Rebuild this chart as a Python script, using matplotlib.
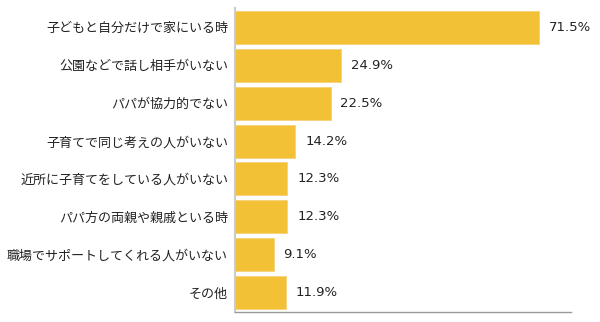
import matplotlib
matplotlib.use("Agg")
import matplotlib.pyplot as plt

# data
labels = [
    "子どもと自分だけで家にいる時",
    "公園などで話し相手がいない",
    "パパが協力的でない",
    "子育てで同じ考えの人がいない",
    "近所に子育てをしている人がいない",
    "パパ方の両親や親戚といる時",
    "職場でサポートしてくれる人がいない",
    "その他",
]
values = [71.5, 24.9, 22.5, 14.2, 12.3, 12.3, 9.1, 11.9]

plt.rcParams['font.family'] = ['Noto Sans CJK JP', 'DejaVu Sans']

W, H = 600, 322
fig = plt.figure(figsize=(W / 100, H / 100), dpi=100)
ax = fig.add_axes([235 / W, (H - 312) / H, (571 - 235) / W, (312 - 8) / H])

y = range(len(labels))
ax.barh(y, values, height=0.87, color="#F2C136", edgecolor="#F6D27A", linewidth=0.6)

for i, v in enumerate(values):
    ax.text(v + 2.3, i, f"{v}%", va="center", ha="left", fontsize=9.5,
            color="#222222", family="DejaVu Sans")

ax.set_xlim(0, 79)
ax.set_ylim(len(labels) - 0.5 + 0.01, -0.51)
ax.set_yticks(list(y))
ax.set_yticklabels(labels, fontsize=9.4, color="#222222")
ax.tick_params(axis="y", length=0, pad=5)
ax.set_xticks([])

ax.spines["top"].set_visible(False)
ax.spines["right"].set_visible(False)
ax.spines["left"].set_color("#cccccc")
ax.spines["left"].set_linewidth(1.5)
ax.spines["bottom"].set_color("#999999")
ax.spines["bottom"].set_linewidth(1)

fig.savefig("out.png", dpi=100)
